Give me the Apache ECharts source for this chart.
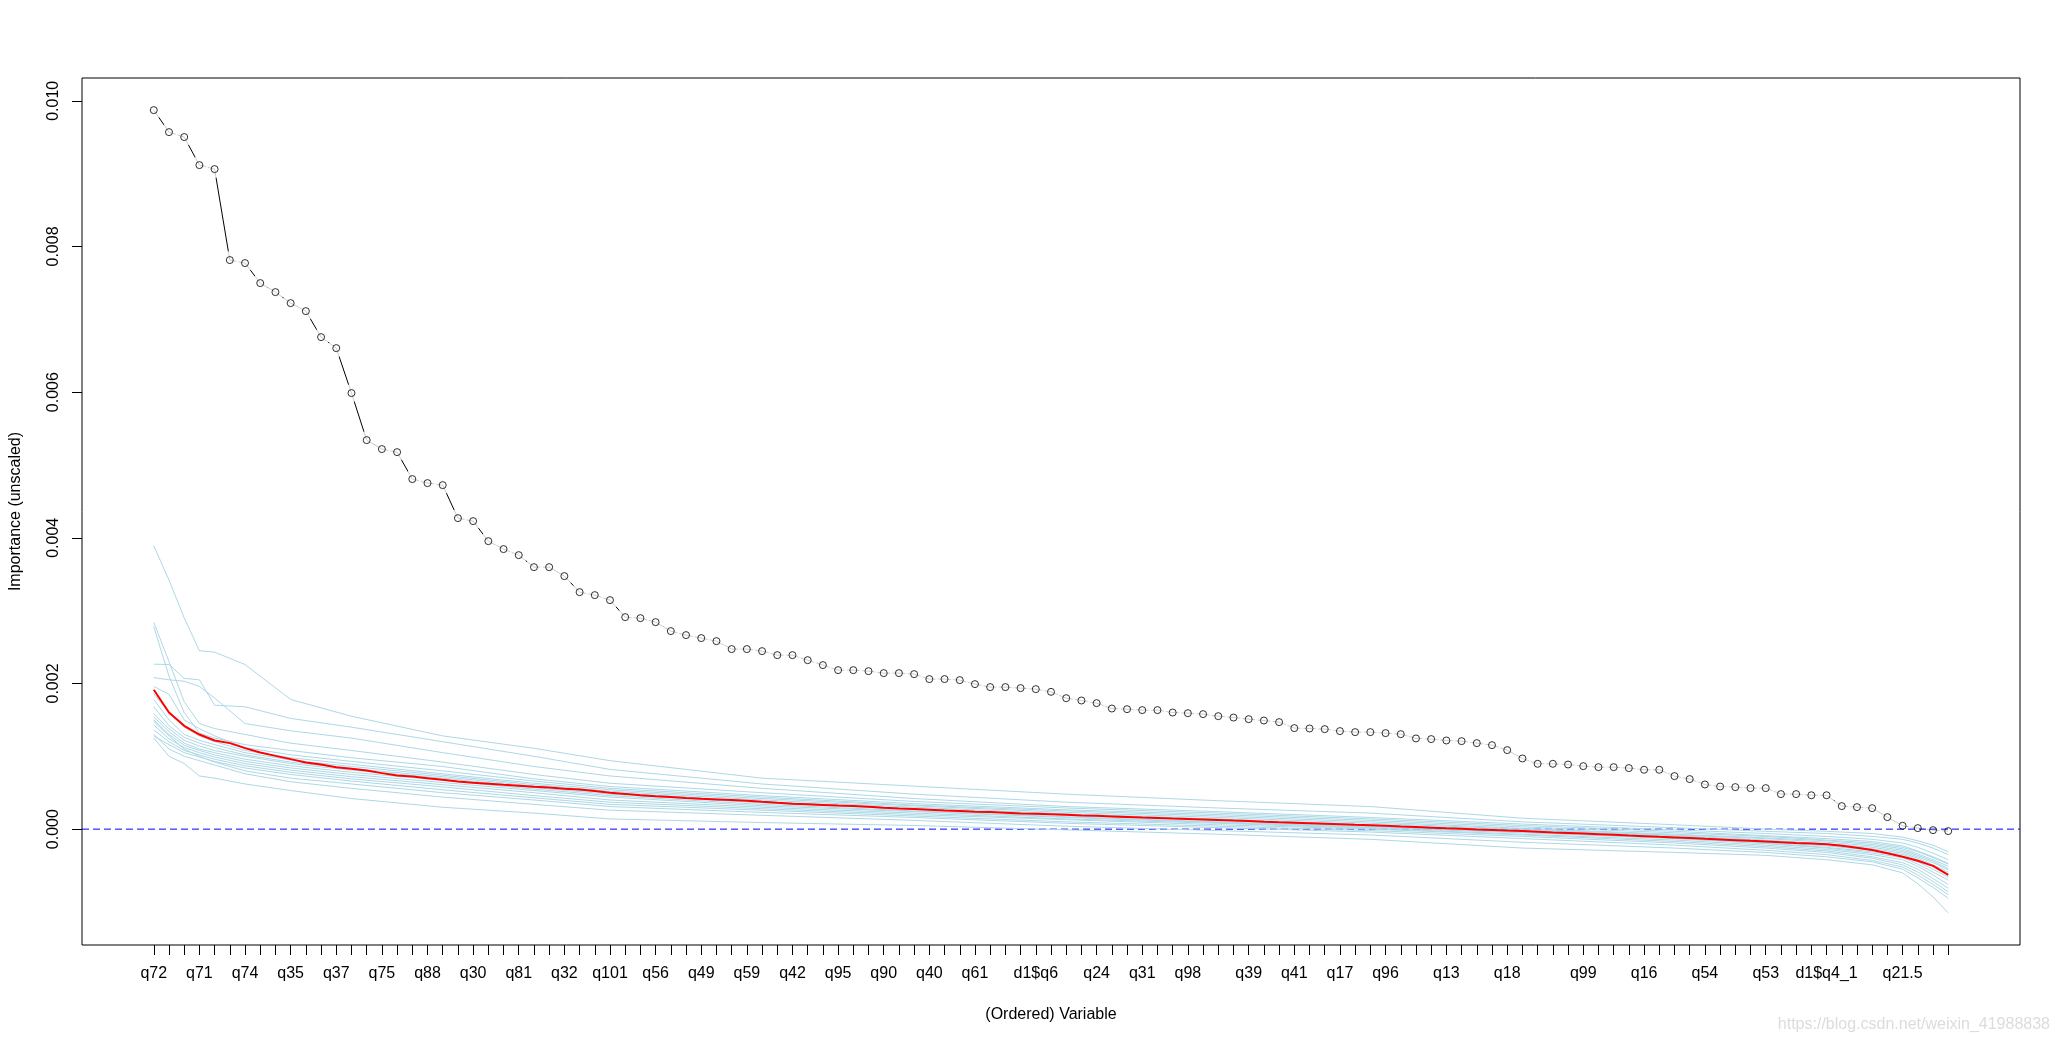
<!DOCTYPE html>
<html><head><meta charset="utf-8">
<script src="https://cdn.jsdelivr.net/npm/echarts@6/dist/echarts.min.js"></script>
<style>html,body{margin:0;padding:0;background:#fff}#chart{width:2057px;height:1044px}</style>
</head><body><div id="chart"></div>
<script>
// ---- data ----
const labelPositions = [1,4,7,10,13,16,19,22,25,28,31,34,37,40,43,46,49,52,55,59,63,66,69,73,76,79,82,86,90,95,99,103,107,111,116];
const labelNames = ['q72','q71','q74','q35','q37','q75','q88','q30','q81','q32','q101','q56','q49','q59','q42','q95','q90','q40','q61','d1$q6','q24','q31','q98','q39','q41','q17','q96','q13','q18','q99','q16','q54','q53','d1$q4_1','q21.5'];
const yTicks = [0, 0.002, 0.004, 0.006, 0.008, 0.010];

const importance = [
 0.009872,0.009570,0.009502,0.009117,0.009062,0.007813,0.007772,0.007497,0.007373,0.007222,
 0.007112,0.006755,0.006604,0.005987,0.005341,0.005218,0.005176,0.004806,0.004751,0.004723,
 0.004270,0.004229,0.003954,0.003845,0.003762,0.003597,0.003597,0.003474,0.003254,0.003213,
 0.003144,0.002911,0.002897,0.002842,0.002719,0.002664,0.002623,0.002581,0.002472,0.002472,
 0.002444,0.002389,0.002389,0.002320,0.002252,0.002183,0.002183,0.002169,0.002142,0.002142,
 0.002128,0.002060,0.002060,0.002046,0.001991,0.001950,0.001950,0.001936,0.001922,0.001885,
 0.001798,0.001766,0.001730,0.001656,0.001647,0.001634,0.001634,0.001601,0.001592,0.001579,
 0.001551,0.001532,0.001510,0.001491,0.001469,0.001387,0.001382,0.001373,0.001346,0.001332,
 0.001332,0.001318,0.001304,0.001245,0.001236,0.001217,0.001208,0.001181,0.001153,0.001085,
 0.000970,0.000897,0.000897,0.000887,0.000865,0.000851,0.000851,0.000838,0.000815,0.000815,
 0.000728,0.000687,0.000613,0.000585,0.000577,0.000563,0.000563,0.000481,0.000481,0.000465,
 0.000465,0.000316,0.000302,0.000288,0.000165,0.000046,0.000014,-0.000014,-0.000027];

const nullMean = [
 0.001913,0.001601,0.001418,0.001299,0.001217,0.001181,0.001112,0.001052,0.001006,0.000961,
 0.000915,0.000887,0.000851,0.000828,0.000805,0.000769,0.000736,0.000722,0.000700,0.000677,
 0.000654,0.000636,0.000622,0.000608,0.000595,0.000581,0.000571,0.000553,0.000544,0.000522,
 0.000500,0.000484,0.000465,0.000450,0.000440,0.000428,0.000417,0.000408,0.000399,0.000389,
 0.000375,0.000362,0.000350,0.000341,0.000332,0.000323,0.000316,0.000306,0.000294,0.000284,
 0.000276,0.000266,0.000256,0.000249,0.000240,0.000234,0.000225,0.000216,0.000211,0.000205,
 0.000198,0.000188,0.000182,0.000175,0.000168,0.000160,0.000153,0.000146,0.000140,0.000133,
 0.000126,0.000118,0.000111,0.000102,0.000094,0.000087,0.000080,0.000073,0.000066,0.000059,
 0.000053,0.000045,0.000036,0.000029,0.000020,0.000011,0.000004,-0.000004,-0.000011,-0.000019,
 -0.000026,-0.000035,-0.000045,-0.000053,-0.000061,-0.000069,-0.000078,-0.000088,-0.000097,-0.000106,
 -0.000114,-0.000123,-0.000133,-0.000142,-0.000151,-0.000161,-0.000170,-0.000179,-0.000189,-0.000198,
 -0.000209,-0.000228,-0.000255,-0.000287,-0.000330,-0.000378,-0.000435,-0.000505,-0.000627];

const nullKeyX = [1,2,3,4,5,7,10,14,20,26,31,41,51,61,71,81,91,101,107,111,114,116,117,118,119];
const nullRun01 = [38.9e-4,34.2e-4,29.0e-4,24.5e-4,24.3e-4,22.6e-4,17.8e-4,15.5e-4,12.8e-4,11.1e-4,9.4e-4,7.0e-4,5.9e-4,4.8e-4,3.9e-4,3.1e-4,1.5e-4,0.6e-4,0.0e-4,-0.3e-4,-0.6e-4,-1.1e-4,-1.6e-4,-2.2e-4,-3.1e-4];
const nullRun02 = [22.65e-4,22.6e-4,20.7e-4,20.5e-4,17.0e-4,16.8e-4,15.2e-4,14.0e-4,12.0e-4,10.0e-4,8.2e-4,6.2e-4,4.8e-4,3.7e-4,2.9e-4,2.2e-4,1.0e-4,0.2e-4,-0.3e-4,-0.6e-4,-1.0e-4,-1.4e-4,-1.9e-4,-2.6e-4,-3.5e-4];
const nullRun03 = [20.8e-4,20.5e-4,20.3e-4,19.6e-4,18.0e-4,14.5e-4,13.5e-4,12.5e-4,10.5e-4,8.6e-4,7.3e-4,5.6e-4,4.2e-4,3.1e-4,2.4e-4,1.6e-4,0.7e-4,-0.1e-4,-0.6e-4,-1.0e-4,-1.4e-4,-1.9e-4,-2.5e-4,-3.3e-4,-4.2e-4];
const nullRun04 = [28.4e-4,23.0e-4,17.5e-4,14.5e-4,13.8e-4,13.0e-4,11.8e-4,10.8e-4,9.2e-4,7.5e-4,6.3e-4,5.0e-4,3.8e-4,2.9e-4,2.2e-4,1.4e-4,0.5e-4,-0.3e-4,-0.9e-4,-1.3e-4,-1.7e-4,-2.3e-4,-3.0e-4,-3.8e-4,-4.7e-4];
const nullRun05 = [27.8e-4,21.0e-4,16.0e-4,13.2e-4,12.5e-4,11.6e-4,10.8e-4,9.8e-4,8.6e-4,6.9e-4,5.85e-4,4.6e-4,3.5e-4,2.65e-4,2.0e-4,1.2e-4,0.3e-4,-0.5e-4,-1.0e-4,-1.5e-4,-1.9e-4,-2.5e-4,-3.1e-4,-3.9e-4,-4.8e-4];
const nullRun06 = [19.6e-4,18.5e-4,15.0e-4,13.8e-4,12.8e-4,11.2e-4,10.2e-4,9.3e-4,8.0e-4,6.6e-4,5.6e-4,4.4e-4,3.3e-4,2.5e-4,1.8e-4,1.0e-4,0.1e-4,-0.7e-4,-1.2e-4,-1.6e-4,-2.1e-4,-2.7e-4,-3.4e-4,-4.2e-4,-5.1e-4];
const nullRun07 = [18.6e-4,16.0e-4,14.0e-4,12.8e-4,12.0e-4,10.8e-4,9.8e-4,8.9e-4,7.6e-4,6.3e-4,5.4e-4,4.2e-4,3.2e-4,2.3e-4,1.6e-4,0.8e-4,0.0e-4,-0.8e-4,-1.3e-4,-1.8e-4,-2.3e-4,-2.9e-4,-3.6e-4,-4.4e-4,-5.4e-4];
const nullRun08 = [17.8e-4,15.0e-4,13.0e-4,12.2e-4,11.6e-4,10.5e-4,9.5e-4,8.6e-4,7.4e-4,6.1e-4,5.2e-4,4.0e-4,3.0e-4,2.1e-4,1.4e-4,0.6e-4,-0.1e-4,-0.9e-4,-1.5e-4,-2.0e-4,-2.5e-4,-3.1e-4,-3.8e-4,-4.6e-4,-5.6e-4];
const nullRun09 = [16.8e-4,14.2e-4,12.6e-4,11.8e-4,11.2e-4,10.2e-4,9.2e-4,8.3e-4,7.2e-4,5.9e-4,5.0e-4,3.8e-4,2.8e-4,2.0e-4,1.3e-4,0.5e-4,-0.2e-4,-1.0e-4,-1.6e-4,-2.1e-4,-2.7e-4,-3.3e-4,-4.0e-4,-4.9e-4,-5.9e-4];
const nullRun10 = [15.8e-4,13.8e-4,12.2e-4,11.4e-4,10.8e-4,10.0e-4,9.0e-4,8.1e-4,7.0e-4,5.7e-4,4.8e-4,3.6e-4,2.7e-4,1.9e-4,1.2e-4,0.4e-4,-0.3e-4,-1.1e-4,-1.8e-4,-2.3e-4,-2.9e-4,-3.5e-4,-4.2e-4,-5.1e-4,-6.2e-4];
const nullRun11 = [15.4e-4,13.4e-4,11.8e-4,11.0e-4,10.5e-4,9.6e-4,8.7e-4,7.8e-4,6.7e-4,5.5e-4,4.6e-4,3.4e-4,2.5e-4,1.7e-4,1.0e-4,0.3e-4,-0.4e-4,-1.2e-4,-1.9e-4,-2.5e-4,-3.1e-4,-3.7e-4,-4.5e-4,-5.5e-4,-6.6e-4];
const nullRun12 = [15.0e-4,13.0e-4,11.5e-4,10.8e-4,10.2e-4,9.3e-4,8.4e-4,7.5e-4,6.4e-4,5.3e-4,4.4e-4,3.2e-4,2.4e-4,1.6e-4,0.9e-4,0.2e-4,-0.5e-4,-1.3e-4,-2.0e-4,-2.6e-4,-3.3e-4,-3.9e-4,-4.8e-4,-5.9e-4,-7.0e-4];
const nullRun13 = [14.3e-4,12.4e-4,11.2e-4,10.5e-4,9.9e-4,9.0e-4,8.1e-4,7.2e-4,6.1e-4,5.0e-4,4.0e-4,3.0e-4,2.2e-4,1.4e-4,0.8e-4,0.1e-4,-0.7e-4,-1.5e-4,-2.2e-4,-2.8e-4,-3.5e-4,-4.2e-4,-5.1e-4,-6.3e-4,-7.6e-4];
const nullRun14 = [13.6e-4,12.0e-4,10.8e-4,10.2e-4,9.6e-4,8.7e-4,7.8e-4,6.9e-4,5.8e-4,4.6e-4,3.7e-4,2.8e-4,2.0e-4,1.3e-4,0.6e-4,0.0e-4,-0.8e-4,-1.7e-4,-2.4e-4,-3.0e-4,-3.8e-4,-4.6e-4,-5.5e-4,-6.8e-4,-8.1e-4];
const nullRun15 = [12.8e-4,11.6e-4,10.5e-4,9.9e-4,9.3e-4,8.4e-4,7.5e-4,6.6e-4,5.4e-4,4.3e-4,3.4e-4,2.6e-4,1.8e-4,1.0e-4,0.4e-4,-0.2e-4,-1.0e-4,-1.9e-4,-2.6e-4,-3.2e-4,-4.0e-4,-4.9e-4,-5.9e-4,-7.2e-4,-8.6e-4];
const nullRun16 = [14.8e-4,12.8e-4,11.0e-4,10.0e-4,9.2e-4,8.0e-4,7.0e-4,6.2e-4,5.0e-4,4.0e-4,3.1e-4,2.3e-4,1.6e-4,0.8e-4,0.2e-4,-0.4e-4,-1.3e-4,-2.2e-4,-2.9e-4,-3.5e-4,-4.3e-4,-5.2e-4,-6.3e-4,-7.6e-4,-9.0e-4];
const nullRun17 = [13.0e-4,11.0e-4,10.0e-4,9.4e-4,8.8e-4,7.6e-4,6.5e-4,5.6e-4,4.4e-4,3.4e-4,2.6e-4,1.9e-4,1.2e-4,0.4e-4,-0.2e-4,-0.8e-4,-1.8e-4,-2.6e-4,-3.2e-4,-3.8e-4,-4.5e-4,-5.5e-4,-6.7e-4,-8.0e-4,-9.5e-4];
const nullRun18 = [12.5e-4,10.0e-4,9.0e-4,7.3e-4,7.0e-4,6.2e-4,5.3e-4,4.2e-4,3.0e-4,2.2e-4,1.4e-4,0.9e-4,0.5e-4,-0.1e-4,-0.7e-4,-1.4e-4,-2.6e-4,-3.2e-4,-3.6e-4,-4.2e-4,-4.9e-4,-6.0e-4,-7.5e-4,-9.3e-4,-11.5e-4];
const nullRuns = [nullRun01,nullRun02,nullRun03,nullRun04,nullRun05,nullRun06,nullRun07,nullRun08,nullRun09,
                  nullRun10,nullRun11,nullRun12,nullRun13,nullRun14,nullRun15,nullRun16,nullRun17,nullRun18];
const zeroRef = 0;

// ---- chart ----
const nVars = importance.length;
const pad = 0.04 * (nVars - 1);
const xMin = 1 - pad, xMax = nVars + pad;
let yLo = Math.min(...importance, ...nullMean), yHi = Math.max(...importance, ...nullMean);
nullRuns.forEach(r => { yLo = Math.min(yLo, ...r); yHi = Math.max(yHi, ...r); });
const yPad = 0.04 * (yHi - yLo);
const yMin = yLo - yPad, yMax = yHi + yPad;

const allTicks = importance.map((v, i) => i + 1);
const impData = importance.map((v, i) => [i + 1, v]);
const meanData = nullMean.map((v, i) => [i + 1, v]);
const FONT = '"Liberation Sans", Arial, sans-serif';

const series = [];
series.push({ type: 'line', data: impData, showSymbol: false, symbol: 'none', z: 1,
  lineStyle: { color: '#000', width: 1 }, silent: true });
series.push({ type: 'scatter', data: impData, symbol: 'circle', symbolSize: 18, z: 2,
  itemStyle: { color: '#ffffff' }, silent: true });
series.push({ type: 'line', data: [[xMin, zeroRef], [xMax, zeroRef]], symbol: 'none', z: 3,
  lineStyle: { color: '#0000ff', width: 1, type: [7, 4] }, silent: true });
nullRuns.forEach(run => {
  series.push({ type: 'line', data: run.map((v, k) => [nullKeyX[k], v]), symbol: 'none', z: 4,
    lineStyle: { color: '#add8e6', width: 1 }, silent: true });
});
series.push({ type: 'line', data: meanData, symbol: 'none', z: 5,
  lineStyle: { color: '#ff0000', width: 2 }, silent: true });
series.push({ type: 'scatter', data: impData, symbol: 'circle', symbolSize: 7, z: 6,
  itemStyle: { color: 'rgba(255,255,255,0)', borderColor: '#000', borderWidth: 1 }, silent: true });

const chart = echarts.init(document.getElementById('chart'), null, { renderer: 'canvas' });
chart.setOption({
  animation: false,
  backgroundColor: '#ffffff',
  textStyle: { fontFamily: FONT },
  grid: { left: 79, right: 37, top: 78, bottom: 99, show: true, borderColor: '#000', borderWidth: 1,
    backgroundColor: 'transparent', containLabel: false },
  xAxis: {
    type: 'value', min: xMin, max: xMax,
    name: '(Ordered) Variable', nameLocation: 'middle', nameGap: 62,
    nameTextStyle: { fontSize: 16, color: '#000', fontFamily: FONT },
    axisLine: { show: false, onZero: false },
    splitLine: { show: false },
    axisTick: { show: true, customValues: allTicks, length: 10, lineStyle: { color: '#000', width: 1 } },
    axisLabel: { show: true, customValues: labelPositions, margin: 21, fontSize: 16, color: '#000', fontFamily: FONT,
      formatter: v => { const k = labelPositions.indexOf(Math.round(v)); return k >= 0 ? labelNames[k] : ''; } }
  },
  yAxis: {
    type: 'value', min: yMin, max: yMax,
    name: 'Importance (unscaled)', nameLocation: 'middle', nameGap: 58, nameRotate: 90,
    nameTextStyle: { fontSize: 16, color: '#000', fontFamily: FONT },
    axisLine: { show: false, onZero: false },
    splitLine: { show: false },
    axisTick: { show: true, customValues: yTicks, length: 10, lineStyle: { color: '#000', width: 1 } },
    axisLabel: { show: true, customValues: yTicks, rotate: 90, margin: 20, fontSize: 16, color: '#000', fontFamily: FONT,
      formatter: v => v.toFixed(3) }
  },
  graphic: [{ type: 'text', right: 7, top: 1017, silent: true,
    style: { text: 'https://blog.csdn.net/weixin_41988838', font: '16px ' + FONT, fill: '#dcdcdc' } }],
  series: series
});
</script>
</body></html>
